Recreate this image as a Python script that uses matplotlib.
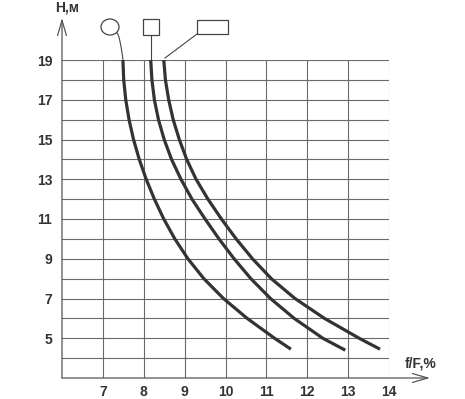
import matplotlib
matplotlib.use("Agg")
import numpy as np
from matplotlib import pyplot as plt
from matplotlib.patches import Ellipse, Rectangle

W, H = 465, 399

# --- data ---
heights1 = [19, 18, 17, 16, 15, 14, 13, 12, 11, 10, 9, 8, 7, 6, 5, 4.45]
ratio1 = [7.49, 7.51, 7.56, 7.64, 7.75, 7.89, 8.06, 8.26, 8.49, 8.76, 9.08, 9.47, 9.95, 10.53, 11.20, 11.60]

heights2 = [19, 18, 17, 16, 15, 14, 13, 12, 11, 10, 9, 8, 7, 6, 5, 4.4]
ratio2 = [8.17, 8.20, 8.26, 8.36, 8.50, 8.68, 8.91, 9.18, 9.50, 9.84, 10.21, 10.62, 11.10, 11.68, 12.38, 12.93]

heights3 = [19, 18, 17, 16, 15, 14, 13, 12, 11, 10, 9, 8, 7, 6, 5, 4.45]
ratio3 = [8.49, 8.53, 8.61, 8.72, 8.87, 9.05, 9.28, 9.57, 9.90, 10.26, 10.66, 11.12, 11.70, 12.42, 13.27, 13.78]

x_ticks = [7, 8, 9, 10, 11, 12, 13, 14]
y_ticks = [5, 7, 9, 11, 13, 15, 17, 19]
y_minor = [4, 6, 8, 10, 12, 14, 16, 18]

TXT = "#333333"
GRID = "#6a6a6a"
CURVE = "#333333"


def fig_xy(xp, yp):
    # pixel position -> figure fraction
    return xp / W, 1 - yp / H


fig = plt.figure(figsize=(W / 100, H / 100), dpi=100)
# axes box: x 6..14 -> px 62..389, y 3..19 -> px 378..60
x0, y0 = fig_xy(62, 378)
x1, y1 = fig_xy(389, 60)
ax = fig.add_axes([x0, y0, x1 - x0, y1 - y0])
ax.set_xlim(6, 14)
ax.set_ylim(3, 19)

for s in ax.spines.values():
    s.set_visible(False)

ax.set_xticks(x_ticks)
ax.set_yticks(y_ticks)
ax.set_yticks(y_minor, minor=True)
ax.tick_params(axis="both", which="both", length=0)
ax.tick_params(axis="x", pad=5)
ax.tick_params(axis="y", pad=7)
for lab in ax.get_xticklabels() + ax.get_yticklabels():
    lab.set_fontfamily("Liberation Sans")
    lab.set_fontweight("bold")
    lab.set_fontsize(10)
    lab.set_color(TXT)

ax.grid(True, which="both", color=GRID, lw=0.8)
ax.set_axisbelow(True)

for xs, ys in [(ratio1, heights1), (ratio2, heights2), (ratio3, heights3)]:
    ax.plot(xs, ys, color=CURVE, lw=2.3, solid_capstyle="butt", solid_joinstyle="round")

# axis arrows
arr = dict(arrowstyle="->,head_length=1.1,head_width=0.32", color="#555555", lw=0.9,
           shrinkA=0, shrinkB=0)
ax.annotate("", xy=(6, 3 + (378 - 18) / 19.875), xytext=(6, 3), arrowprops=arr,
            annotation_clip=False)
ax.annotate("", xy=(6 + (430 - 62) / 40.875, 3), xytext=(6, 3), arrowprops=arr,
            annotation_clip=False)

fig.text(*fig_xy(67, 8), "Н,м", ha="center", va="center", fontsize=10,
         fontweight="bold", family="Liberation Sans", color=TXT)
fig.text(*fig_xy(421, 363), "f/F,%", ha="center", va="center", fontsize=10,
         fontweight="bold", family="Liberation Sans", color=TXT)

# shape labels at the top of the curves
ec = "#444444"
cx, cy = fig_xy(110, 27)
fig.patches.append(Ellipse((cx, cy), 18 / W, 16 / H, transform=fig.transFigure,
                           fill=False, ec=ec, lw=0.9))
sx, sy = fig_xy(143, 35)
fig.patches.append(Rectangle((sx, sy), 16 / W, 16 / H, transform=fig.transFigure,
                             fill=False, ec=ec, lw=0.9))
rx, ry = fig_xy(197, 34)
fig.patches.append(Rectangle((rx, ry), 31 / W, 14 / H, transform=fig.transFigure,
                             fill=False, ec=ec, lw=0.9))

# leader lines
t = np.linspace(0, 1, 20)
lx = 117 + 6 * t ** 0.6
ly = 33 + 27 * t
fx, fy = fig_xy(lx, ly)
fig.add_artist(plt.Line2D(fx, fy, color=ec, lw=0.8))
fx, fy = fig_xy(np.array([151, 151]), np.array([35, 60]))
fig.add_artist(plt.Line2D(fx, fy, color=ec, lw=0.8))
fx, fy = fig_xy(np.array([197, 165]), np.array([34, 58]))
fig.add_artist(plt.Line2D(fx, fy, color=ec, lw=0.8))

fig.savefig("out.png", dpi=100)
